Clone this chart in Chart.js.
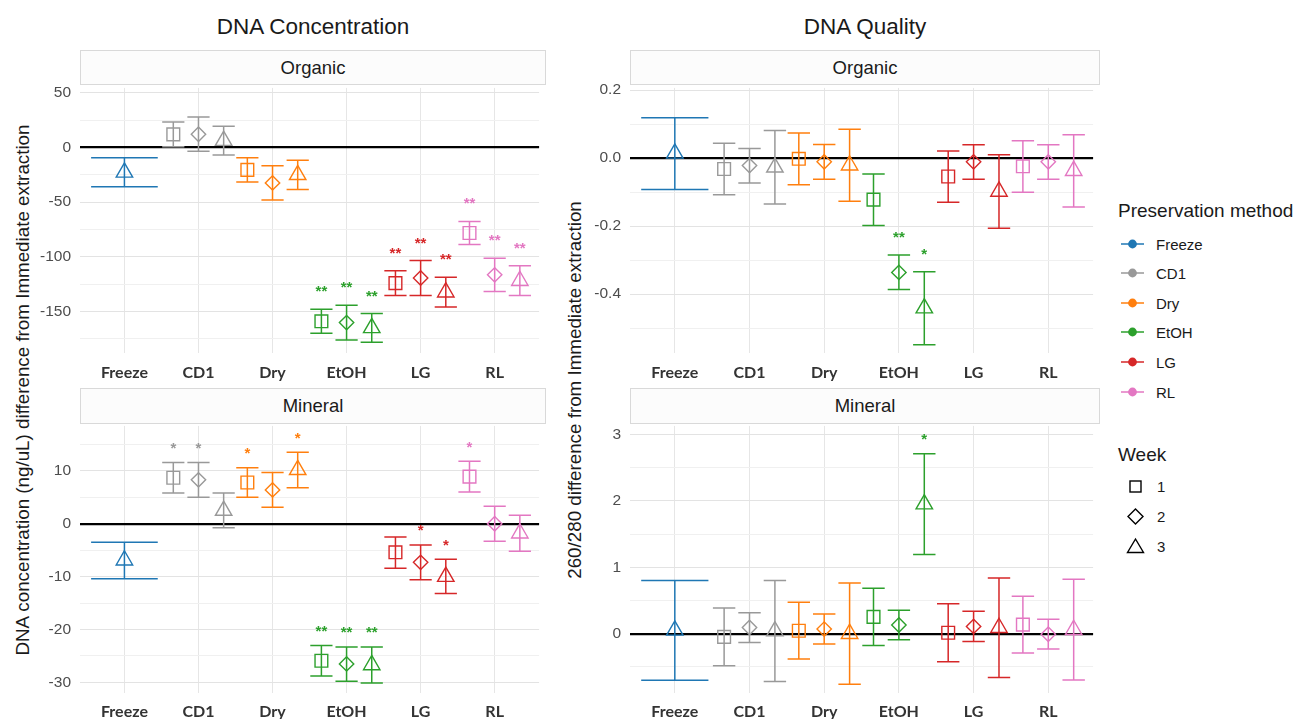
<!DOCTYPE html>
<html lang="en">
<head>
  <meta charset="UTF-8">
  <title>DNA Concentration and Quality</title>
  <script src="https://cdn.jsdelivr.net/npm/chart.js"></script>
  <style>
    body {
      margin: 0;
      width: 1295px;
      height: 719px;
      position: relative;
      overflow: hidden;
      background: #fff;
      font-family: 'Liberation Sans', Arial, sans-serif;
      color: #1a1a1a;
    }
    canvas { position: absolute; }
    .title {
      position: absolute;
      top: 14px;
      font-size: 22.5px;
      transform: translateX(-50%);
      white-space: nowrap;
    }
    .strip {
      position: absolute;
      box-sizing: border-box;
      border: 1.5px solid #d9d9d9;
      background: #fcfcfc;
      display: flex;
      align-items: center;
      justify-content: center;
      font-size: 18.5px;
    }
    .ytitle {
      position: absolute;
      font-size: 18.8px;
      white-space: nowrap;
      transform: translate(-50%, -50%) rotate(-90deg);
    }
    .lg {
      position: absolute;
      white-space: nowrap;
      transform: translateY(-50%);
    }
    .lg-title { font-size: 19px; }
    .lg-label { font-size: 15px; }
  </style>
</head>
<body>
  <div class="title" style="left:313px">DNA Concentration</div>
  <div class="title" style="left:865px">DNA Quality</div>

  <div class="strip" style="left:80px; top:50px; width:466px; height:35px">Organic</div>
  <div class="strip" style="left:80px; top:388px; width:466px; height:36px">Mineral</div>
  <div class="strip" style="left:630px; top:50px; width:470px; height:35px">Organic</div>
  <div class="strip" style="left:630px; top:388px; width:470px; height:36px">Mineral</div>

  <div class="ytitle" style="left:23px; top:389.5px">DNA concentration (ng/uL) difference from Immediate extraction</div>
  <div class="ytitle" style="left:575px; top:389.5px">260/280 difference from Immediate extraction</div>

  <canvas id="concOrg" width="515" height="308" style="left:35px; top:77px"></canvas>
  <canvas id="concMin" width="515" height="304" style="left:35px; top:415px"></canvas>
  <canvas id="qualOrg" width="524" height="308" style="left:580px; top:77px"></canvas>
  <canvas id="qualMin" width="524" height="304" style="left:580px; top:415px"></canvas>

  <div id="legend"></div>

  <script>
    const methods = ['Freeze', 'CD1', 'Dry', 'EtOH', 'LG', 'RL'];
    const weeks = ['1', '2', '3'];
    const methodColors = ['#1f77b4', '#999999', '#ff7f0e', '#2ca02c', '#d62728', '#e377c2'];

    // DNA concentration, organic soil: [week1, week2, week3] per method
    const concOrgMean = [[null, null, -22.9], [11.9, 12.0, 6.2], [-20.6, -32.5, -25.1], [-159.1, -160.3, -165.1], [-124.2, -119.5, -132.5], [-78.3, -116.6, -122.0]];
    const concOrgLo = [[null, null, -36.1], [0.6, -3.6, -6.9], [-31.6, -48.2, -38.5], [-170.1, -176.1, -178.2], [-135.5, -135.5, -146.0], [-88.8, -131.8, -135.5]];
    const concOrgHi = [[null, null, -9.6], [23.2, 27.7, 19.3], [-9.6, -16.9, -11.7], [-148.1, -144.5, -152.0], [-112.9, -103.5, -118.9], [-67.7, -101.4, -108.4]];
    const concOrgStars = [['', '', ''], ['', '', ''], ['', '', ''], ['**', '**', '**'], ['**', '**', '**'], ['**', '**', '**']];

    // DNA concentration, mineral soil
    const concMinMean = [[null, null, -6.9], [8.7, 8.3, 2.5], [7.8, 6.4, 10.2], [-25.9, -26.5, -26.7], [-5.4, -7.3, -10.0], [8.9, 0.0, -1.8]];
    const concMinLo = [[null, null, -10.4], [5.8, 5.0, -0.75], [5.0, 3.1, 6.8], [-28.8, -29.8, -30.1], [-8.4, -10.6, -13.2], [6.0, -3.3, -5.2]];
    const concMinHi = [[null, null, -3.5], [11.6, 11.6, 5.8], [10.6, 9.7, 13.5], [-23.0, -23.3, -23.3], [-2.5, -4.0, -6.7], [11.8, 3.3, 1.6]];
    const concMinStars = [['', '', ''], ['*', '*', ''], ['*', '', '*'], ['**', '**', '**'], ['', '*', '*'], ['*', '', '']];

    // 260/280 quality, organic soil
    const qualOrgMean = [[null, null, 0.014], [-0.032, -0.022, -0.027], [-0.002, -0.011, -0.021], [-0.122, -0.336, -0.441], [-0.054, -0.011, -0.098], [-0.024, -0.011, -0.037]];
    const qualOrgLo = [[null, null, -0.092], [-0.108, -0.073, -0.135], [-0.078, -0.062, -0.127], [-0.198, -0.386, -0.549], [-0.130, -0.062, -0.206], [-0.100, -0.062, -0.144]];
    const qualOrgHi = [[null, null, 0.119], [0.044, 0.028, 0.081], [0.074, 0.040, 0.085], [-0.047, -0.285, -0.334], [0.021, 0.039, 0.010], [0.051, 0.039, 0.069]];
    const qualOrgStars = [['', '', ''], ['', '', ''], ['', '', ''], ['', '**', '*'], ['', '', ''], ['', '', '']];

    // 260/280 quality, mineral soil
    const qualMinMean = [[null, null, 0.05], [-0.048, 0.093, 0.04], [0.045, 0.07, 0.0], [0.254, 0.131, 1.95], [0.015, 0.11, 0.09], [0.136, -0.008, 0.06]];
    const qualMinLo = [[null, null, -0.70], [-0.482, -0.131, -0.72], [-0.382, -0.156, -0.759], [-0.176, -0.09, 1.191], [-0.422, -0.116, -0.658], [-0.291, -0.231, -0.698]];
    const qualMinHi = [[null, null, 0.80], [0.387, 0.317, 0.80], [0.472, 0.296, 0.764], [0.683, 0.352, 2.709], [0.452, 0.337, 0.839], [0.563, 0.216, 0.819]];
    const qualMinStars = [['', '', ''], ['', '', ''], ['', '', ''], ['', '', '*'], ['', '', ''], ['', '', '']];

    const shapes = ['rect', 'rectRot', 'triangle'];
    const radii = [9, 7.2, 9.5];
    const dodge = 0.34;

    function buildPoints(mean, lo, hi, stars, wi) {
      const pts = [];
      mean.forEach((row, mi) => {
        if (row[wi] === null) return;
        const count = row.filter(v => v !== null).length;
        const offset = count === 1 ? 0 : (wi - 1) * dodge;
        pts.push({ x: mi + 1 + offset, y: row[wi], lo: lo[mi][wi], hi: hi[mi][wi], star: stars[mi][wi], m: mi, single: count === 1 });
      });
      return pts;
    }

    // error bars under the markers, significance stars above
    const errorBars = {
      id: 'errorBars',
      beforeDatasetsDraw(chart) {
        const { ctx } = chart;
        const x = chart.scales.x, y = chart.scales.y;
        ctx.save();
        ctx.lineWidth = 1.5;
        chart.data.datasets.forEach(ds => {
          ds.data.forEach(p => {
            const cap = p.single ? 0.45 : 0.15;
            const px = x.getPixelForValue(p.x);
            const x0 = x.getPixelForValue(p.x - cap), x1 = x.getPixelForValue(p.x + cap);
            const yl = y.getPixelForValue(p.lo), yh = y.getPixelForValue(p.hi);
            ctx.strokeStyle = methodColors[p.m];
            ctx.beginPath();
            ctx.moveTo(px, yl); ctx.lineTo(px, yh);
            ctx.moveTo(x0, yl); ctx.lineTo(x1, yl);
            ctx.moveTo(x0, yh); ctx.lineTo(x1, yh);
            ctx.stroke();
          });
        });
        ctx.restore();
      },
      afterDatasetsDraw(chart, args, opts) {
        const { ctx } = chart;
        const x = chart.scales.x, y = chart.scales.y;
        ctx.save();
        ctx.font = 'bold 15px "Liberation Sans", Arial, sans-serif';
        ctx.textAlign = 'center';
        ctx.textBaseline = 'alphabetic';
        chart.data.datasets.forEach(ds => {
          ds.data.forEach(p => {
            if (!p.star) return;
            ctx.fillStyle = methodColors[p.m];
            ctx.fillText(p.star, x.getPixelForValue(p.x), y.getPixelForValue(p.hi) - opts.starGap + 9);
          });
        });
        ctx.restore();
      }
    };

    function makePanel(id, mean, lo, hi, stars, cfg) {
      const isMajor = v => Math.abs(v / cfg.major - Math.round(v / cfg.major)) < 1e-6;
      return new Chart(document.getElementById(id), {
        type: 'scatter',
        data: {
          datasets: weeks.map((w, wi) => ({
            label: 'Week ' + w,
            data: buildPoints(mean, lo, hi, stars, wi),
            pointStyle: shapes[wi],
            pointRadius: radii[wi],
            pointHoverRadius: radii[wi],
            pointBorderWidth: 1.4,
            pointBorderColor: c => c.raw ? methodColors[c.raw.m] : '#000',
            pointBackgroundColor: 'rgba(0,0,0,0)',
            showLine: false
          }))
        },
        options: {
          responsive: false,
          animation: false,
          events: [],
          layout: { padding: { top: 10, right: 4, bottom: 0, left: 0 } },
          plugins: {
            legend: { display: false },
            tooltip: { enabled: false },
            errorBars: { starGap: cfg.starGap }
          },
          scales: {
            x: {
              type: 'linear',
              min: 0.4,
              max: 6.6,
              afterFit: s => { s.height = cfg.xh; s.paddingLeft = 0; s.paddingRight = 0; },
              border: { display: false },
              grid: { color: '#e6e6e6', drawTicks: false },
              ticks: {
                stepSize: 1,
                includeBounds: false,
                autoSkip: false,
                maxRotation: 0,
                padding: cfg.xpad,
                color: '#333333',
                font: { family: 'Lato', weight: 'bold', size: 16 },
                callback: v => methods[v - 1]
              }
            },
            y: {
              min: cfg.min,
              max: cfg.max,
              afterFit: s => { s.width = cfg.yw; s.paddingTop = 0; s.paddingBottom = 0; },
              border: { display: false },
              grid: {
                drawTicks: false,
                color: c => c.tick.value === 0 ? '#000000' : (isMajor(c.tick.value) ? '#e3e3e3' : '#f0f0f0'),
                lineWidth: c => c.tick.value === 0 ? 2.2 : 1
              },
              ticks: {
                stepSize: cfg.minor,
                includeBounds: false,
                autoSkip: false,
                padding: 9,
                color: '#4d4d4d',
                font: { family: 'Liberation Sans', size: 15.5 },
                callback: v => isMajor(v) ? v.toFixed(cfg.dec) : ''
              }
            }
          }
        },
        plugins: [errorBars]
      });
    }

    makePanel('concOrg', concOrgMean, concOrgLo, concOrgHi, concOrgStars,
      { min: -188.1, max: 54.4, major: 50, minor: 25, dec: 0, yw: 45, xh: 32, xpad: 10, starGap: 22 });
    makePanel('concMin', concMinMean, concMinLo, concMinHi, concMinStars,
      { min: -32.0, max: 18.5, major: 10, minor: 5, dec: 0, yw: 45, xh: 26, xpad: 9, starGap: 18.5 });
    makePanel('qualOrg', qualOrgMean, qualOrgLo, qualOrgHi, qualOrgStars,
      { min: -0.573, max: 0.2065, major: 0.2, minor: 0.1, dec: 1, yw: 50, xh: 32, xpad: 10, starGap: 22 });
    makePanel('qualMin', qualMinMean, qualMinLo, qualMinHi, qualMinStars,
      { min: -0.892, max: 3.127, major: 1, minor: 0.5, dec: 0, yw: 50, xh: 26, xpad: 9, starGap: 19 });

    // legend
    const legend = document.getElementById('legend');
    let html = '<div class="lg lg-title" style="left:1118px; top:211px">Preservation method</div>';
    methods.forEach((m, i) => {
      const yc = 243.5 + i * 29.6;
      html += `<svg style="position:absolute; left:1120px; top:${yc - 8}px" width="26" height="16">
        <line x1="1" y1="8" x2="24" y2="8" stroke="${methodColors[i]}" stroke-width="1.5"/>
        <circle cx="12.5" cy="8" r="4.4" fill="${methodColors[i]}"/></svg>`;
      html += `<div class="lg lg-label" style="left:1156px; top:${yc}px">${m}</div>`;
    });
    html += '<div class="lg lg-title" style="left:1118px; top:455px">Week</div>';
    const weekIcons = [
      '<rect x="4" y="4" width="11" height="11" fill="none" stroke="#000" stroke-width="1.4"/>',
      '<polygon points="9.5,2 17,9.5 9.5,17 2,9.5" fill="none" stroke="#000" stroke-width="1.4"/>',
      '<polygon points="9.5,2 17.5,15.5 1.5,15.5" fill="none" stroke="#000" stroke-width="1.4"/>'
    ];
    weeks.forEach((w, i) => {
      const yc = 486 + i * 30;
      html += `<svg style="position:absolute; left:1126px; top:${yc - 9.5}px" width="19" height="19">${weekIcons[i]}</svg>`;
      html += `<div class="lg lg-label" style="left:1157px; top:${yc}px">${w}</div>`;
    });
    legend.innerHTML = html;
  </script>
</body>
</html>
